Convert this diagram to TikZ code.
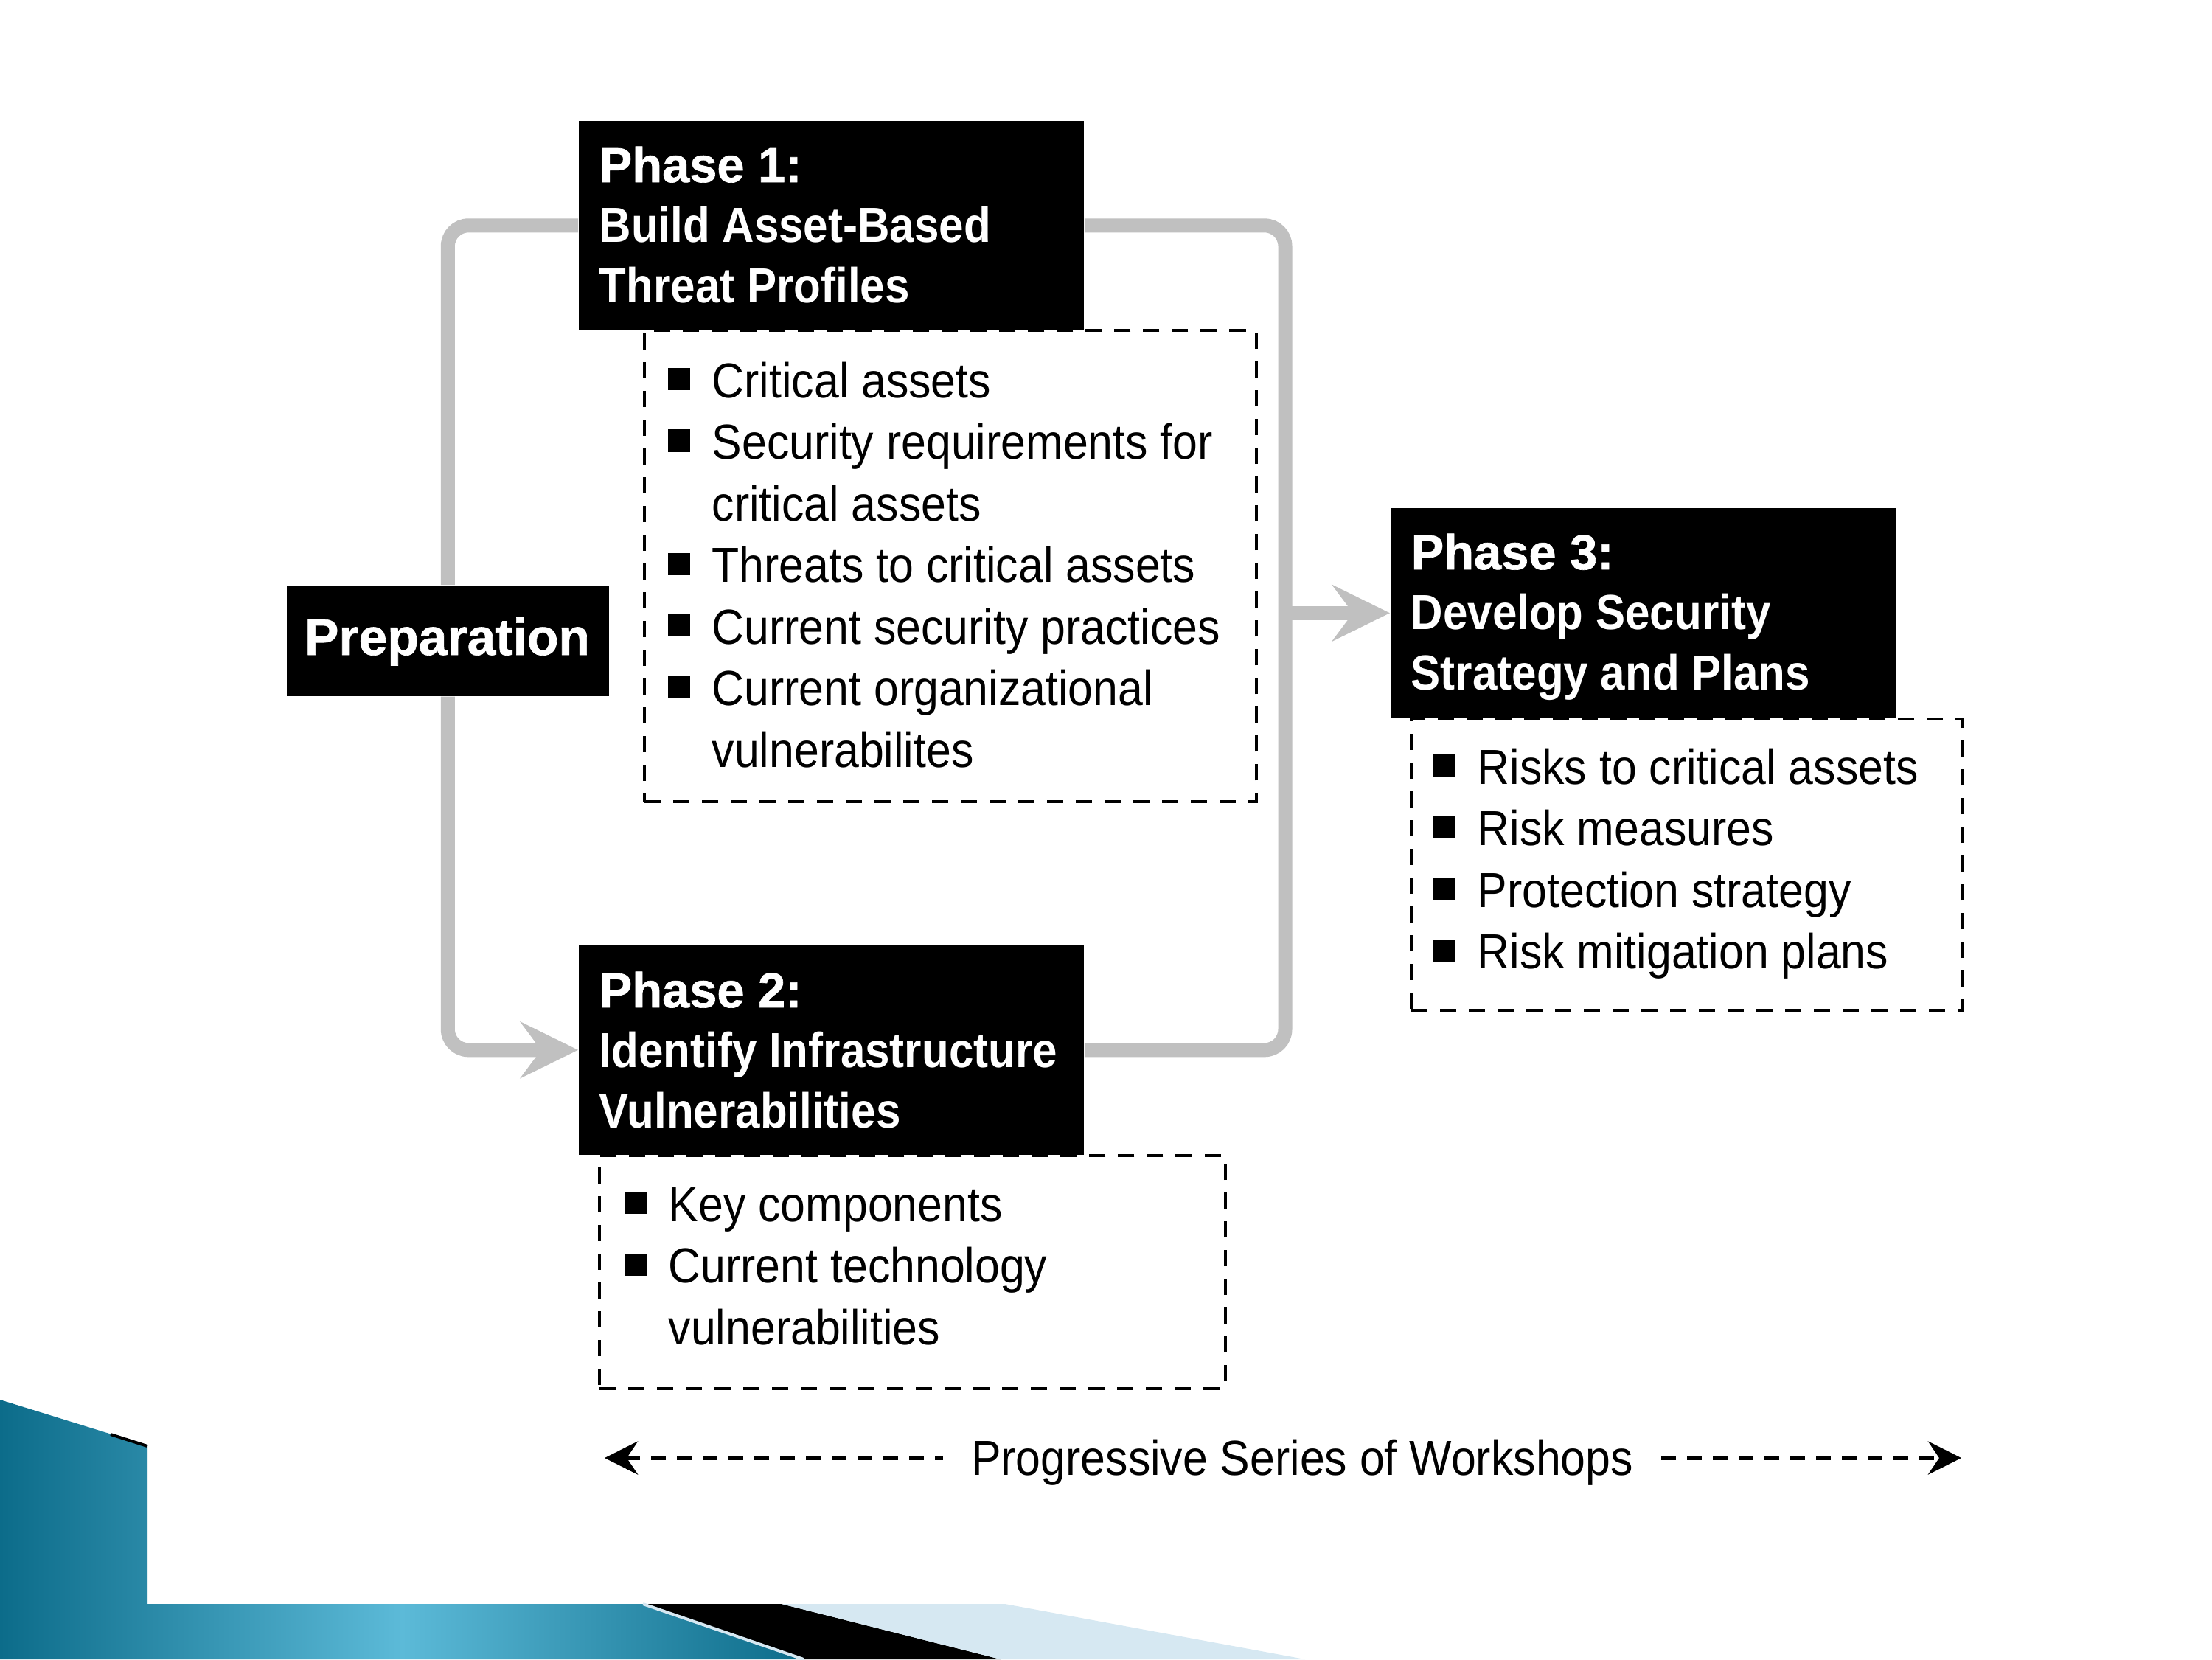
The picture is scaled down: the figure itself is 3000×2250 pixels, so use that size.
\documentclass[tikz,border=0pt]{standalone}
\usepackage{fontspec}
\setmainfont{Liberation Sans}
\newfontfamily\fPhase[BoldFeatures={FakeBold=1}]{Liberation Sans}
\newfontfamily\fSub[FakeStretch=0.9]{Liberation Sans}
\newfontfamily\fBody[FakeStretch=0.91]{Liberation Sans}
\usetikzlibrary{arrows.meta}
\definecolor{tealD}{RGB}{12,108,138}
\definecolor{tealL}{RGB}{92,186,216}
\definecolor{lblue}{RGB}{214,232,242}
\definecolor{loopgray}{RGB}{192,192,192}
\pgfdeclarelayer{bg}
\pgfdeclarelayer{lines}
\pgfsetlayers{bg,lines,main}
\newcommand\bsq{\makebox[0.6cm][l]{\raisebox{0.1cm}{\rule{0.3cm}{0.3cm}}}}
\tikzset{
  blackbox/.style={fill=black, draw=none, inner sep=0pt, anchor=north west},
  dbox/.style={draw=black, dash pattern=on 0.22cm off 0.17cm, line width=0.04cm, inner sep=0pt, anchor=north west},
  hphase/.style={text=white, anchor=base west, inner sep=0pt, font=\fPhase\bfseries\fontsize{19pt}{22pt}\selectfont},
  hsub/.style={text=white, anchor=base west, inner sep=0pt, font=\fSub\bfseries\fontsize{19pt}{22pt}\selectfont},
  prepfont/.style={text=white, anchor=base, inner sep=0pt, font=\fPhase\bfseries\fontsize{19.8pt}{22pt}\selectfont},
  item/.style={anchor=base west, inner sep=0pt, font=\fBody\fontsize{19pt}{22pt}\selectfont},
  loopline/.style={draw=loopgray, line width=0.19cm, rounded corners=0.28cm},
  garrow/.style={-{Stealth[length=0.78cm,width=0.76cm,inset=0.28cm]}},
  wsline/.style={draw=black, line width=0.06cm, dash pattern=on 0.2cm off 0.15cm},
  wsleft/.style={{Stealth[length=0.45cm,width=0.45cm,inset=0.15cm]}-},
  wsright/.style={-{Stealth[length=0.45cm,width=0.45cm,inset=0.15cm]}}
}
\begin{document}
\begin{tikzpicture}[x=0.01cm, y=-0.01cm]
\useasboundingbox (0,0) rectangle (3000,2250);
\begin{pgfonlayer}{bg}
  \fill[white] (0,0) rectangle (3000,2250);
  \shade[left color=tealD, right color=tealD, middle color=tealL]
    (0,1898) -- (200,1960) -- (200,2175) -- (872,2175) -- (1090,2250) -- (0,2250) -- cycle;
  \draw[black, line width=0.04cm] (150,1945) -- (200,1961);
  \fill[black] (872,2175) -- (1060,2175) -- (1357,2250) -- (1090,2250) -- cycle;
  \fill[lblue] (1060,2175) -- (1363,2175) -- (1770,2250) -- (1357,2250) -- cycle;
  \draw[lblue, line width=0.04cm] (872,2175) -- (1090,2250);
\end{pgfonlayer}

% dashed content boxes
\node[dbox, minimum width=8.29cm, minimum height=6.39cm] (d1) at (872,446) {};
\node[dbox, minimum width=8.48cm, minimum height=3.16cm] (d2) at (811,1565) {};
\node[dbox, minimum width=7.48cm, minimum height=3.95cm] (d3) at (1912,973) {};

% black header boxes
\node[blackbox, minimum width=6.85cm, minimum height=2.84cm] (p1) at (784,163) {};
\node[blackbox, minimum width=6.85cm, minimum height=2.84cm] (p2) at (784,1281) {};
\node[blackbox, minimum width=6.85cm, minimum height=2.85cm] (p3) at (1885,688) {};
\node[blackbox, minimum width=4.37cm, minimum height=1.50cm] (prep) at (388,793) {};

% header texts
\node[hphase] (p1a) at (812,247) {Phase 1:};
\node[hsub]   (p1b) at (812,328) {Build Asset-Based};
\node[hsub]   (p1c) at (812,410) {Threat Profiles};
\node[hphase] (p2a) at (812,1366) {Phase 2:};
\node[hsub]   (p2b) at (812,1447) {Identify Infrastructure};
\node[hsub]   (p2c) at (812,1529) {Vulnerabilities};
\node[hphase] (p3a) at (1913,772) {Phase 3:};
\node[hsub]   (p3b) at (1913,853) {Develop Security};
\node[hsub]   (p3c) at (1913,935) {Strategy and Plans};
\node[prepfont] (prept) at (606.5,888) {Preparation};

% phase 1 items
\node[item] (i11) at (905,539)  {\bsq Critical assets};
\node[item] (i12) at (905,622.5) {\bsq Security requirements for};
\node[item] (i13) at (965,706)  {critical assets};
\node[item] (i14) at (905,789.5) {\bsq Threats to critical assets};
\node[item] (i15) at (905,873)  {\bsq Current security practices};
\node[item] (i16) at (905,956.5) {\bsq Current organizational};
\node[item] (i17) at (965,1040) {vulnerabilites};

% phase 2 items
\node[item] (i21) at (846,1656)  {\bsq Key components};
\node[item] (i22) at (846,1739.5) {\bsq Current technology};
\node[item] (i23) at (906,1823)  {vulnerabilities};

% phase 3 items
\node[item] (i31) at (1943,1063)   {\bsq Risks to critical assets};
\node[item] (i32) at (1943,1146.5) {\bsq Risk measures};
\node[item] (i33) at (1943,1230)   {\bsq Protection strategy};
\node[item] (i34) at (1943,1313.5) {\bsq Risk mitigation plans};

% gray flow loop
\begin{pgfonlayer}{lines}
  \coordinate (rx) at (1743,0);
  \draw[loopline] (prep.north) -- (prep.north |- p1.west) -- (p1.west);
  \draw[loopline, garrow] (prep.south) -- (prep.south |- p2.west) -- (p2.west);
  \draw[loopline] (p1.east) -- (rx |- p1.east) -- (rx |- p2.east) -- (p2.east);
  \draw[loopline, garrow] (rx |- p3.west) -- (p3.west);
\end{pgfonlayer}

% workshops arrow
\coordinate (ws1) at (820,1977);
\coordinate (ws2) at (2660,1977);
\node[item, anchor=base, inner xsep=0.37cm] (ws) at (1766,2000) {Progressive Series of Workshops};
\draw[wsline, wsleft] (ws1) -- (ws1 -| ws.west);
\draw[wsline, wsright] (ws2 -| ws.east) -- (ws2);
\end{tikzpicture}
\end{document}
